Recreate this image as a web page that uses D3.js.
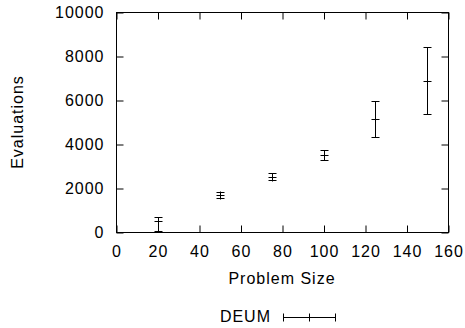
<!DOCTYPE html>
<html><head><meta charset="utf-8">
<script src="https://cdn.jsdelivr.net/npm/d3@7"></script>
<style>
body{margin:0;background:#fff}
text{font-family:"Liberation Sans",Arial,Helvetica,sans-serif;font-size:16px;letter-spacing:1px;fill:#000}
</style>
</head><body>
<svg id="c" width="465" height="328"></svg>
<script>
const sizes = [20, 50, 75, 100, 125, 150];
const means = [510, 1700, 2520, 3520, 5140, 6850];
const lows  = [30, 1560, 2380, 3290, 4320, 5350];
const highs = [700, 1830, 2660, 3710, 5970, 8390];
const xTicks = [0, 20, 40, 60, 80, 100, 120, 140, 160];
const yTicks = [0, 2000, 4000, 6000, 8000, 10000];
const seriesName = "DEUM";
const xLabel = "Problem Size";
const yLabel = "Evaluations";

const svg = d3.select("#c");
const L = 116, R = 448, T = 12, B = 232;
const x = d3.scaleLinear().domain([0, 160]).range([L, R]);
const y = d3.scaleLinear().domain([0, 10000]).range([B, T]);
const g = svg.append("g").attr("transform", "translate(0.5,0.5)");

function style(sel){
  sel.select(".domain").remove();
  sel.selectAll(".tick line").attr("stroke", "#000");
}
g.append("g").attr("transform", `translate(0,${B})`)
  .call(d3.axisBottom(x).tickValues(xTicks).tickSizeInner(-7).tickSizeOuter(0).tickPadding(13).tickFormat(d3.format("d")))
  .call(style).call(s => s.attr("font-size", null).attr("font-family", null));
g.append("g").attr("transform", `translate(0,${T})`)
  .call(d3.axisTop(x).tickValues(xTicks).tickSizeInner(-7).tickSizeOuter(0).tickFormat(""))
  .call(style);
g.append("g").attr("transform", `translate(${L},0)`)
  .call(d3.axisLeft(y).tickValues(yTicks).tickSizeInner(-7).tickSizeOuter(0).tickPadding(12).tickFormat(d3.format("d")))
  .call(style).call(s => s.attr("font-size", null).attr("font-family", null));
g.append("g").attr("transform", `translate(${R},0)`)
  .call(d3.axisRight(y).tickValues(yTicks).tickSizeInner(-7).tickSizeOuter(0).tickFormat(""))
  .call(style);

g.append("rect").attr("x", L).attr("y", T).attr("width", R - L).attr("height", B - T)
  .attr("fill", "none").attr("stroke", "#000");

const data = sizes.map((s, i) => ({s, m: means[i], lo: lows[i], hi: highs[i]}));
const cap = 4, cr = 4;
const pts = g.append("g").attr("stroke", "#000").attr("fill", "none");
data.forEach(d => {
  const cx = Math.round(x(d.s));
  pts.append("line").attr("x1", cx).attr("x2", cx).attr("y1", y(d.lo)).attr("y2", y(d.hi));
  pts.append("line").attr("x1", cx - cap).attr("x2", cx + cap).attr("y1", Math.round(y(d.lo))).attr("y2", Math.round(y(d.lo)));
  pts.append("line").attr("x1", cx - cap).attr("x2", cx + cap).attr("y1", Math.round(y(d.hi))).attr("y2", Math.round(y(d.hi)));
  pts.append("line").attr("x1", cx - cr).attr("x2", cx + cr).attr("y1", Math.round(y(d.m))).attr("y2", Math.round(y(d.m)));
  pts.append("line").attr("x1", cx).attr("x2", cx).attr("y1", Math.round(y(d.m)) - cr).attr("y2", Math.round(y(d.m)) + cr);
});

svg.append("text").attr("x", (L + R) / 2).attr("y", 284).attr("text-anchor", "middle").text(xLabel);
svg.append("text").attr("transform", `translate(23,${(T + B) / 2}) rotate(-90)`).attr("text-anchor", "middle").text(yLabel);

// legend
const lg = svg.append("g");
lg.append("text").attr("x", 271).attr("y", 321.5).attr("text-anchor", "end").text(seriesName);
const ly = 317.5, lx1 = 283, lx2 = 336, lxm = 309.5;
const ll = lg.append("g").attr("stroke", "#000");
ll.append("line").attr("x1", lx1).attr("x2", lx2).attr("y1", ly).attr("y2", ly);
ll.append("line").attr("x1", lx1 + 0.5).attr("x2", lx1 + 0.5).attr("y1", ly - 4).attr("y2", ly + 4);
ll.append("line").attr("x1", lx2 - 0.5).attr("x2", lx2 - 0.5).attr("y1", ly - 4).attr("y2", ly + 4);
ll.append("line").attr("x1", lxm).attr("x2", lxm).attr("y1", ly - 4).attr("y2", ly + 4);
</script>
</body></html>
